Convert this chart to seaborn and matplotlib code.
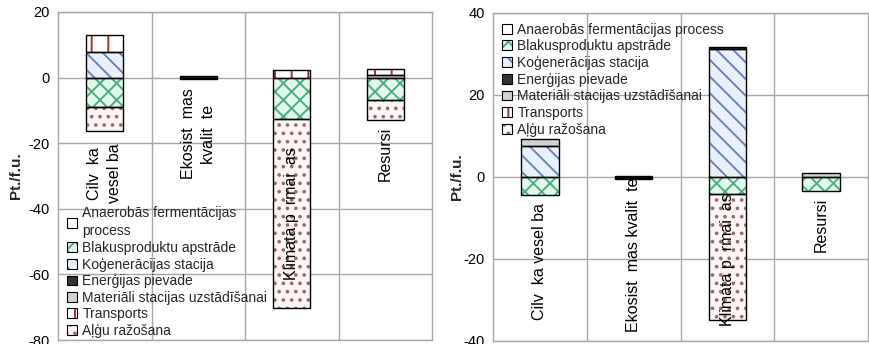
import numpy as np
import pandas as pd
import matplotlib
matplotlib.use("Agg")
import matplotlib.pyplot as plt
import seaborn as sns
from matplotlib.patches import Patch
from matplotlib.legend_handler import HandlerTuple

# Impact categories (labels as printed on the chart)
categories_left = ["Cilv  ka\nvesel ba", "Ekosist  mas\nkvalit  te",
                   "Klimata p  rmai  as", "Resursi"]
categories_right = ["Cilv  ka vesel ba", "Ekosist  mas kvalit  te",
                    "Klimata p  rmai  as", "Resursi"]

# Process stages, in stacking order
series = ["Anaerobās fermentācijas process", "Blakusproduktu apstrāde",
          "Koģenerācijas stacija", "Enerģijas pievade",
          "Materiāli stacijas uzstādīšanai", "Transports", "Aļģu ražošana"]

# Left panel values, Pt./f.u.
left_anaerobas = [0, 0, 0, 0]
left_blakusprodukti = [-9.1, -0.2, -12.6, -6.9]
left_kogeneracija = [7.8, 0, 0, 0]
left_energija = [0, 0.5, 0, 0]
left_materiali = [0, 0, 0, 0.7]
left_transports = [5.3, 0, 2.3, 2.0]
left_algu = [-7.3, -0.3, -57.6, -5.9]

# Right panel values, Pt./f.u.
right_anaerobas = [0, 0, 0, 0]
right_blakusprodukti = [-4.4, -0.3, -4.2, -3.3]
right_kogeneracija = [7.6, 0, 31.3, 0]
right_energija = [0, 0.3, 0.5, 0]
right_materiali = [1.6, 0, 0, 0.9]
right_transports = [0, 0, 0, 0]
right_algu = [0, -0.3, -30.7, 0]

left_yticks = [-80, -60, -40, -20, 0, 20]
right_yticks = [-40, -20, 0, 20, 40]

left_values = dict(zip(series, [left_anaerobas, left_blakusprodukti, left_kogeneracija,
                                left_energija, left_materiali, left_transports, left_algu]))
right_values = dict(zip(series, [right_anaerobas, right_blakusprodukti, right_kogeneracija,
                                 right_energija, right_materiali, right_transports, right_algu]))

# fill colour, hatch pattern, hatch colour
styles = {
    "Anaerobās fermentācijas process": ("#ffffff", "", "#ffffff"),
    "Blakusproduktu apstrāde": ("#e0f9ec", "xx", "#4fae80"),
    "Koģenerācijas stacija": ("#eaf0fa", "\\\\", "#6a84bb"),
    "Enerģijas pievade": ("#333333", "", "#333333"),
    "Materiāli stacijas uzstādīšanai": ("#d2d2d2", "", "#d2d2d2"),
    "Transports": ("#ffffff", "|", "#9e3434"),
    "Aļģu ražošana": ("#fdf5f5", "..", "#946a6a"),
}

sns.set_theme(style="white")
plt.rcParams["font.family"] = ["Liberation Sans", "DejaVu Sans"]
plt.rcParams["hatch.linewidth"] = 1.4

GRID = "#a6a6a6"

fig = plt.figure(figsize=(8.69, 3.44), dpi=100)
ax1 = fig.add_axes([58 / 869, 4 / 344, 374 / 869, 328 / 344])
ax2 = fig.add_axes([493 / 869, 3 / 344, 375 / 869, 328 / 344])


def draw_panel(ax, labels, values, ylim, yticks, label_centres, ylabel_x,
               legend_kw, legend_labels):
    pos_base = np.zeros(len(labels))
    neg_base = np.zeros(len(labels))
    for name in series:
        vals = np.asarray(values[name], dtype=float)
        keep = vals != 0
        if not keep.any():
            continue
        bottoms = np.where(vals >= 0, pos_base, neg_base)
        df = pd.DataFrame({"cat": np.array(labels)[keep], "val": vals[keep]})
        face, hatch, hcol = styles[name]
        # patterned fill
        sns.barplot(data=df, x="cat", y="val", order=labels, bottom=bottoms[keep],
                    width=0.4, color=face, facecolor=face, saturation=1,
                    errorbar=None, hatch=hatch, edgecolor=hcol, linewidth=0,
                    ax=ax, zorder=2)
        # black outline
        sns.barplot(data=df, x="cat", y="val", order=labels, bottom=bottoms[keep],
                    width=0.4, color=face, facecolor="none", saturation=1,
                    errorbar=None, edgecolor="black", linewidth=1.0,
                    ax=ax, zorder=3)
        pos_base = pos_base + np.where(vals > 0, vals, 0)
        neg_base = neg_base + np.where(vals < 0, vals, 0)

    ax.set_xlim(-0.5, len(labels) - 0.5)
    ax.set_ylim(*ylim)
    ax.set_yticks(yticks)
    ax.set_yticklabels([str(t) for t in yticks], fontsize=10.5)
    ax.set_xticks([])
    ax.set_xticks(np.arange(len(labels) - 1) + 0.5, minor=True)
    ax.tick_params(axis="x", which="both", length=0, labelbottom=False)
    ax.tick_params(axis="y", length=4, width=1.0, color=GRID, pad=2, labelcolor="black")
    ax.set_axisbelow(True)
    ax.grid(True, axis="y", which="major", color=GRID, linewidth=1.0)
    ax.grid(True, axis="x", which="minor", color=GRID, linewidth=1.0)
    for sp in ax.spines.values():
        sp.set_visible(True)
        sp.set_color(GRID)
        sp.set_linewidth(1.0)
    ax.set_xlabel("")
    ax.set_ylabel("Pt./f.u.", fontsize=11, fontweight="bold")
    ax.yaxis.label.set_va("center")
    ax.yaxis.set_label_coords(ylabel_x, 0.5)

    for i, (lab, yc) in enumerate(zip(labels, label_centres)):
        ax.text(i, yc, lab, rotation=90, ha="center", va="center",
                fontsize=11.5, linespacing=1.45, zorder=5, color="black")

    handles = []
    for name in series:
        face, hatch, hcol = styles[name]
        fill = Patch(facecolor=face, edgecolor=hcol, hatch=hatch, linewidth=0)
        outline = Patch(facecolor="none", edgecolor="black", linewidth=0.8)
        handles.append((fill, outline))
    leg = ax.legend(handles, legend_labels, handler_map={tuple: HandlerTuple(ndivide=1, pad=0)},
                    frameon=False, fontsize=10, handlelength=0.7, handleheight=0.7,
                    handletextpad=0.4, labelspacing=0.17, borderpad=0, borderaxespad=0,
                    **legend_kw)
    for t in leg.get_texts():
        t.set_linespacing(1.4)
    leg.set_zorder(6)


draw_panel(ax1, categories_left, left_values, (-80, 20), left_yticks,
           [-29.2, -17.2, -41.4, -23.2], -0.112,
           dict(loc="lower left", bbox_to_anchor=(0.024, 0.006)),
           ["Anaerobās fermentācijas\nprocess"] + series[1:])
draw_panel(ax2, categories_right, right_values, (-40, 40), right_yticks,
           [-20.7, -19.0, -20.2, -11.7], -0.096,
           dict(loc="upper left", bbox_to_anchor=(0.024, 0.970)),
           series)

fig.savefig("out.png", dpi=100)
